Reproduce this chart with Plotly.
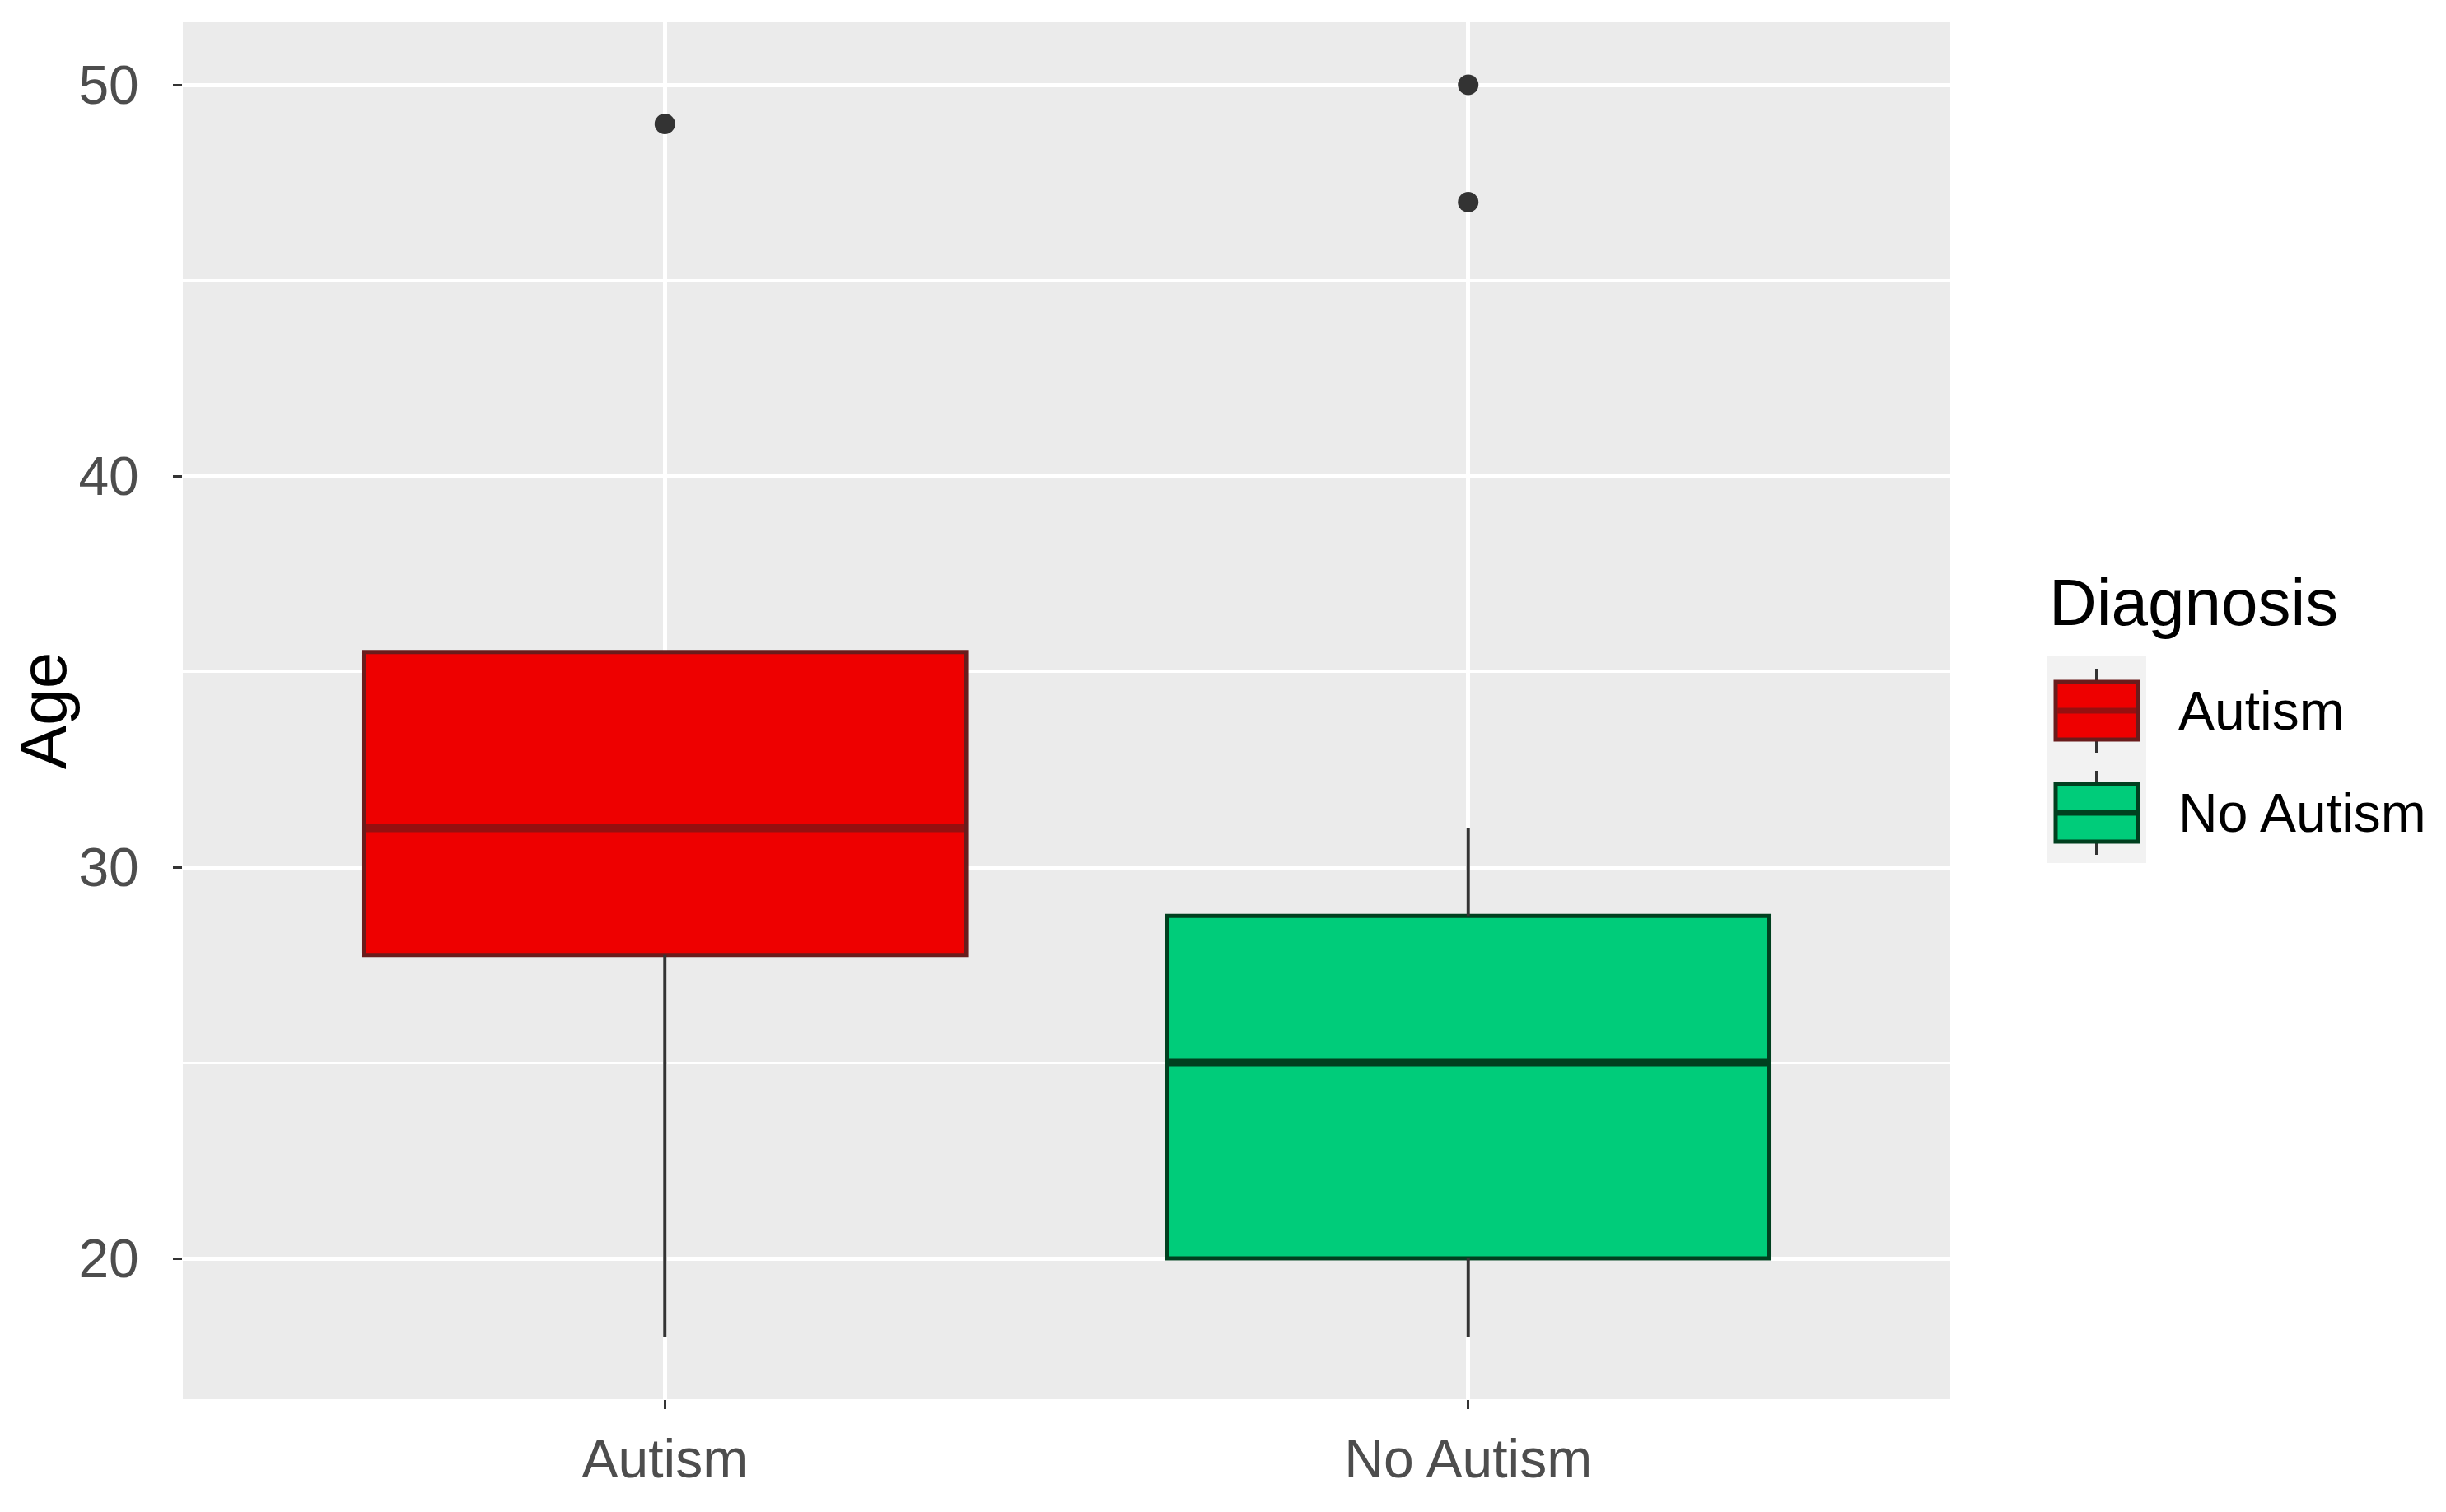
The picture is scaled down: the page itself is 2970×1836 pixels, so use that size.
import plotly.graph_objects as go

# ---- data ----
categories = ["Autism", "No Autism"]
q1_vals = [27.75, 20.0]
median_vals = [31.0, 25.0]
q3_vals = [35.5, 28.75]
lower_whisker = [18.0, 18.0]
upper_whisker = [35.5, 31.0]
outliers_autism = [49.0]
outliers_no_autism = [50.0, 47.0]
y_ticks = [20, 30, 40, 50]
legend_title = "Diagnosis"

# ---- styles ----
fills = ["#EE0000", "#00CC7A"]
outlines = ["#6A1C1C", "#00401F"]
medians = ["#951010", "#00401F"]
whisker_color = "#333333"
BOX_WIDTH = 0.75
FONT = "Liberation Sans, Arial, sans-serif"

W, H = 2970, 1836
OFF = 8  # page body offset
ML, MR, MT, MB = 214, 610, 19, 145
PX0, PX1 = OFF + ML, OFF + W - MR
PY0, PY1 = OFF + MT, OFF + H - MB   # top, bottom of panel in page pixels


def px(x):
    return (x - PX0) / (PX1 - PX0)


def py(y):
    return (PY1 - y) / (PY1 - PY0)


outliers = [outliers_autism, outliers_no_autism]
positions = list(range(len(categories)))

fig = go.Figure()

for i, cat in enumerate(categories):
    pos = positions[i]
    fig.add_trace(go.Box(
        x=[pos], q1=[q1_vals[i]], median=[median_vals[i]], q3=[q3_vals[i]],
        lowerfence=[q1_vals[i]], upperfence=[q3_vals[i]],
        width=BOX_WIDTH, name=cat, fillcolor=fills[i],
        line=dict(color=outlines[i], width=5),
        boxpoints=False, showlegend=False, hoverinfo="skip",
    ))

for i, cat in enumerate(categories):
    pos = positions[i]
    fig.add_trace(go.Scatter(
        x=[pos, pos, None, pos, pos],
        y=[q3_vals[i], upper_whisker[i], None, lower_whisker[i], q1_vals[i]],
        mode="lines", line=dict(color=whisker_color, width=4),
        showlegend=False, hoverinfo="skip",
    ))
    fig.add_trace(go.Scatter(
        x=[pos - BOX_WIDTH / 2 + 0.003, pos + BOX_WIDTH / 2 - 0.003],
        y=[median_vals[i], median_vals[i]],
        mode="lines", line=dict(color=medians[i], width=10),
        showlegend=False, hoverinfo="skip",
    ))
    fig.add_trace(go.Scatter(
        x=[pos] * len(outliers[i]), y=outliers[i],
        mode="markers", marker=dict(color=whisker_color, size=25),
        showlegend=False, hoverinfo="skip",
    ))

# ---- manual ggplot-style legend ----
shapes = []
annotations = []
LEG_BG = (2485, 2606, 796, 1048)
KEY_X0, KEY_X1, KEY_XC = 2496, 2596, 2546
KEY_CENTERS = [863, 987]
BOX_HALF, WHISK_HALF = 35, 51
LABEL_X = 2643

shapes.append(dict(type="rect", xref="paper", yref="paper",
                   x0=px(LEG_BG[0]), x1=px(LEG_BG[1]),
                   y0=py(LEG_BG[3]), y1=py(LEG_BG[2]),
                   fillcolor="#F2F2F2", line=dict(width=0), layer="below"))
for i, cat in enumerate(categories):
    yc = KEY_CENTERS[i]
    shapes.append(dict(type="line", xref="paper", yref="paper",
                       x0=px(KEY_XC), x1=px(KEY_XC),
                       y0=py(yc + WHISK_HALF), y1=py(yc - WHISK_HALF),
                       line=dict(color=whisker_color, width=4)))
    shapes.append(dict(type="rect", xref="paper", yref="paper",
                       x0=px(KEY_X0), x1=px(KEY_X1),
                       y0=py(yc + BOX_HALF), y1=py(yc - BOX_HALF),
                       fillcolor=fills[i], line=dict(color=outlines[i], width=5)))
    shapes.append(dict(type="line", xref="paper", yref="paper",
                       x0=px(KEY_X0 + 2), x1=px(KEY_X1 - 2),
                       y0=py(yc), y1=py(yc),
                       line=dict(color=medians[i], width=7)))
    annotations.append(dict(xref="paper", yref="paper", x=px(LABEL_X), y=py(yc),
                            text=cat, showarrow=False, xanchor="left", yanchor="middle",
                            font=dict(size=66, color="black", family=FONT)))
annotations.append(dict(xref="paper", yref="paper", x=px(2486), y=py(731),
                        text=legend_title, showarrow=False, xanchor="left",
                        yanchor="middle",
                        font=dict(size=80, color="black", family=FONT)))

fig.update_layout(
    width=W, height=H,
    paper_bgcolor="white", plot_bgcolor="#EBEBEB",
    margin=dict(l=ML, r=MR, t=MT, b=MB, autoexpand=False),
    font=dict(family=FONT, size=66, color="#4D4D4D"),
    showlegend=False,
    shapes=shapes, annotations=annotations,
    xaxis=dict(
        range=[-0.6, 1.6], tickmode="array", tickvals=positions, ticktext=categories,
        showgrid=True, gridcolor="white", gridwidth=4.5, zeroline=False,
        ticks="outside", ticklen=11, tickwidth=3, tickcolor="#333333",
        tickfont=dict(size=66, color="#4D4D4D"), showline=False,
        ticklabelstandoff=4,
    ),
    yaxis=dict(
        range=[16.4, 51.6], tickmode="array", tickvals=y_ticks,
        showgrid=True, gridcolor="white", gridwidth=4.5, zeroline=False,
        ticks="outside", ticklen=11, tickwidth=3, tickcolor="#333333",
        tickfont=dict(size=66, color="#4D4D4D"), showline=False,
        ticklabelstandoff=28,
        title=dict(text="Age", font=dict(size=80, color="black"), standoff=0),
        minor=dict(tickmode="array", tickvals=[25, 35, 45], showgrid=True,
                   gridcolor="white", gridwidth=2.5, ticks=""),
    ),
)

fig.write_html("out.html")
